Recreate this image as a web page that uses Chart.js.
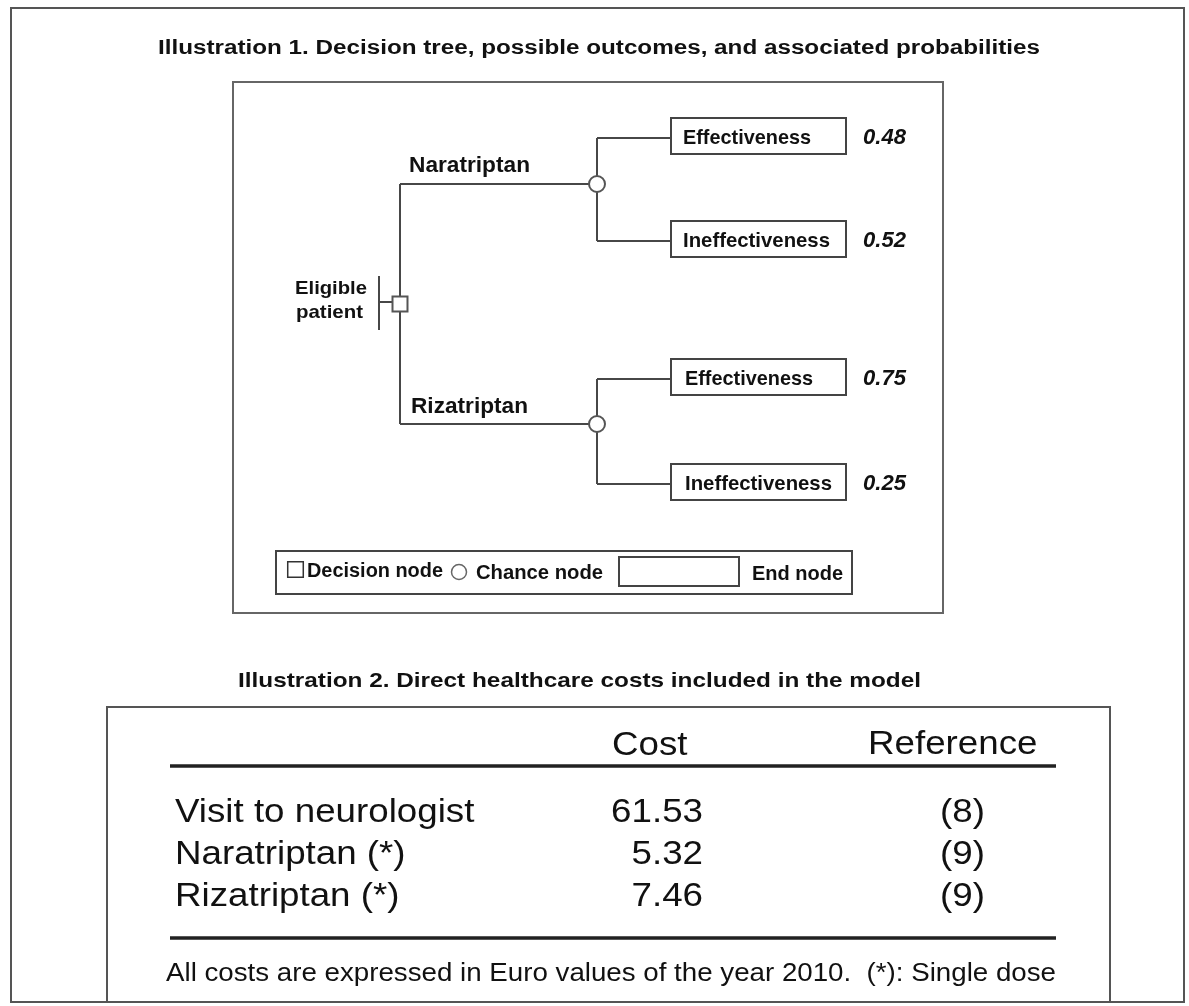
<!DOCTYPE html>
<html>
<head>
<meta charset="utf-8">
<script src="https://cdn.jsdelivr.net/npm/chart.js@4.4.1/dist/chart.umd.min.js"></script>
<style>
  html, body { margin: 0; padding: 0; background: #ffffff; }
  #wrap { position: absolute; left: 0; top: 0; width: 1189px; height: 1006px; }
</style>
</head>
<body>
<div id="wrap"><canvas id="c" width="1189" height="1006"></canvas></div>
<script>
// ---------------- DATA ----------------
const title1 = 'Illustration 1. Decision tree, possible outcomes, and associated probabilities';
const title2 = 'Illustration 2. Direct healthcare costs included in the model';
const rootLabel = ['Eligible', 'patient'];
const treatments = ['Naratriptan', 'Rizatriptan'];
const outcomes = ['Effectiveness', 'Ineffectiveness'];
const probNaratriptan = [0.48, 0.52];
const probRizatriptan = [0.75, 0.25];
const legendLabels = ['Decision node', 'Chance node', 'End node'];
const tableHeaders = ['Cost', 'Reference'];
const costItems = ['Visit to neurologist', 'Naratriptan (*)', 'Rizatriptan (*)'];
const costValues = [61.53, 5.32, 7.46];
const costRefs = ['(8)', '(9)', '(9)'];
const footnote = 'All costs are expressed in Euro values of the year 2010.  (*): Single dose';

// ---------------- LAYOUT (page units = pixels) ----------------
const W = 1189, H = 1006;
const ROOT_X = 400, CHANCE_X = 597, BOX_X = 671, BOX_W = 175, BOX_H = 36, PROB_X = 863;
const BRANCH_Y = [184, 424];
const OUTCOME_Y = [[138, 241], [379, 484]];
const DECISION_Y = (BRANCH_Y[0] + BRANCH_Y[1]) / 2;
const probs = [probNaratriptan, probRizatriptan];

// line segments of the tree, built from the layout
const segments = [];
segments.push([[ROOT_X, BRANCH_Y[0]], [ROOT_X, BRANCH_Y[1]]]);
BRANCH_Y.forEach((by, i) => {
  segments.push([[ROOT_X, by], [CHANCE_X, by]]);
  segments.push([[CHANCE_X, OUTCOME_Y[i][0]], [CHANCE_X, OUTCOME_Y[i][1]]]);
  OUTCOME_Y[i].forEach(oy => segments.push([[CHANCE_X, oy], [BOX_X, oy]]));
});
segments.push([[379, 276], [379, 330]]);
segments.push([[379, 302], [392, 302]]);

const lineDatasets = segments.map(s => ({
  type: 'scatter',
  data: s.map(p => ({ x: p[0], y: p[1] })),
  showLine: true,
  borderColor: '#474747',
  borderWidth: 2,
  pointRadius: 0,
  order: 2
}));

const nodeDatasets = [
  { // decision node
    data: [{ x: ROOT_X, y: DECISION_Y }],
    pointStyle: 'rect', pointRadius: 10.6,
    pointBackgroundColor: '#ffffff', pointBorderColor: '#555555', pointBorderWidth: 2,
    order: 0
  },
  { // chance nodes
    data: BRANCH_Y.map(by => ({ x: CHANCE_X, y: by })),
    pointStyle: 'circle', pointRadius: 8,
    pointBackgroundColor: '#ffffff', pointBorderColor: '#555555', pointBorderWidth: 2,
    order: 0
  },
  { // legend: decision symbol
    data: [{ x: 295.5, y: 569.5 }],
    pointStyle: 'rect', pointRadius: 11,
    pointBackgroundColor: '#ffffff', pointBorderColor: '#333333', pointBorderWidth: 1.5,
    order: 0
  },
  { // legend: chance symbol
    data: [{ x: 459, y: 572 }],
    pointStyle: 'circle', pointRadius: 7.5,
    pointBackgroundColor: '#ffffff', pointBorderColor: '#666666', pointBorderWidth: 1.5,
    order: 0
  }
];

// ---------------- DRAW HELPERS ----------------
function px(chart, v) { return chart.scales.x.getPixelForValue(v); }
function py(chart, v) { return chart.scales.y.getPixelForValue(v); }

function drawText(chart, s, x, y, font, align, w, color) {
  const ctx = chart.ctx;
  ctx.save();
  ctx.font = font;
  ctx.fillStyle = color || '#111111';
  ctx.textBaseline = 'alphabetic';
  ctx.textAlign = 'left';
  const nat = ctx.measureText(s).width;
  const target = w ? (px(chart, x + w) - px(chart, x)) : nat;
  const sx = target / nat;
  let X = px(chart, x);
  if (align === 'right') X -= target;
  else if (align === 'center') X -= target / 2;
  ctx.translate(X, py(chart, y));
  ctx.scale(sx, 1);
  ctx.fillText(s, 0, 0);
  ctx.restore();
}

function strokeRect(chart, x0, y0, x1, y1, color, lw) {
  const ctx = chart.ctx;
  ctx.save();
  ctx.strokeStyle = color;
  ctx.lineWidth = lw;
  const a = px(chart, x0), b = py(chart, y0), c = px(chart, x1), d = py(chart, y1);
  ctx.strokeRect(a, b, c - a, d - b);
  ctx.restore();
}

function hLine(chart, x0, x1, y, color, lw) {
  const ctx = chart.ctx;
  ctx.save();
  ctx.strokeStyle = color; ctx.lineWidth = lw;
  ctx.beginPath();
  ctx.moveTo(px(chart, x0), py(chart, y));
  ctx.lineTo(px(chart, x1), py(chart, y));
  ctx.stroke();
  ctx.restore();
}

const B = 'bold ';
const SANS = '"Liberation Sans", Arial, sans-serif';

const framePlugin = {
  id: 'frame',
  beforeDatasetsDraw(chart) {
    // outer frame, illustration boxes
    strokeRect(chart, 11, 8, 1184, 1002, '#555555', 2);
    strokeRect(chart, 233, 82, 943, 613, '#666666', 2);
    strokeRect(chart, 107, 707, 1110, 1002, '#555555', 2);
    // end-node boxes
    OUTCOME_Y.forEach(row => row.forEach(oy => {
      strokeRect(chart, BOX_X, oy - 20, BOX_X + BOX_W, oy - 20 + BOX_H, '#444444', 2);
    }));
    // legend box
    strokeRect(chart, 276, 551, 852, 594, '#444444', 2);
    strokeRect(chart, 619, 557, 739, 586, '#444444', 2);
  },
  afterDatasetsDraw(chart) {
    // titles
    drawText(chart, title1, 599, 54, B + '20px ' + SANS, 'center', 882);
    drawText(chart, title2, 579.5, 687, B + '21px ' + SANS, 'center', 683);

    // root label
    drawText(chart, rootLabel[0], 295, 294, B + '19px ' + SANS, 'left', 72);
    drawText(chart, rootLabel[1], 296, 318, B + '19px ' + SANS, 'left', 67);

    // treatment labels
    const trW = [121, 117];
    const trBase = [172, 413];
    treatments.forEach((t, i) => drawText(chart, t, 409 + i * 2, trBase[i], B + '22px ' + SANS, 'left', trW[i]));

    // outcome labels and probabilities
    const outW = [128, 147];
    OUTCOME_Y.forEach((row, i) => row.forEach((oy, j) => {
      drawText(chart, outcomes[j], BOX_X + 12 + i * 2, oy + 6, B + '20.5px ' + SANS, 'left', outW[j]);
      drawText(chart, probs[i][j].toFixed(2), PROB_X, oy + 6, 'italic bold 22px ' + SANS, 'left', 43);
    }));

    // legend texts
    drawText(chart, legendLabels[0], 307, 577, B + '20px ' + SANS, 'left', 136);
    drawText(chart, legendLabels[1], 476, 579, B + '20px ' + SANS, 'left', 127);
    drawText(chart, legendLabels[2], 752, 580, B + '20px ' + SANS, 'left', 91);

    // table
    const TF = '34px ' + SANS;
    const SX = 1.08;
    function tw(s) { chart.ctx.save(); chart.ctx.font = TF; const w = chart.ctx.measureText(s).width * SX; chart.ctx.restore(); return w; }
    drawText(chart, tableHeaders[0], 612, 755, TF, 'left', tw(tableHeaders[0]));
    drawText(chart, tableHeaders[1], 868, 754, TF, 'left', tw(tableHeaders[1]));
    hLine(chart, 170, 1056, 766, '#222222', 3.5);
    const rowBase = [822, 864, 906];
    costItems.forEach((s, i) => {
      drawText(chart, s, 175, rowBase[i], TF, 'left', tw(s));
      const v = costValues[i].toFixed(2);
      drawText(chart, v, 703, rowBase[i], TF, 'right', tw(v));
      drawText(chart, costRefs[i], 985, rowBase[i], TF, 'right', tw(costRefs[i]));
    });
    hLine(chart, 170, 1056, 938, '#222222', 3.5);
    drawText(chart, footnote, 166, 981, '25px ' + SANS, 'left', 890);
  }
};

new Chart(document.getElementById('c'), {
  type: 'scatter',
  data: { datasets: nodeDatasets.concat(lineDatasets) },
  options: {
    responsive: false,
    maintainAspectRatio: false,
    animation: false,
    events: [],
    layout: { padding: 0, autoPadding: false },
    plugins: { legend: { display: false }, tooltip: { enabled: false }, title: { display: false } },
    scales: {
      x: { type: 'linear', min: 0, max: W, display: false },
      y: { type: 'linear', min: 0, max: H, reverse: true, display: false }
    }
  },
  plugins: [framePlugin]
});
</script>
</body>
</html>
